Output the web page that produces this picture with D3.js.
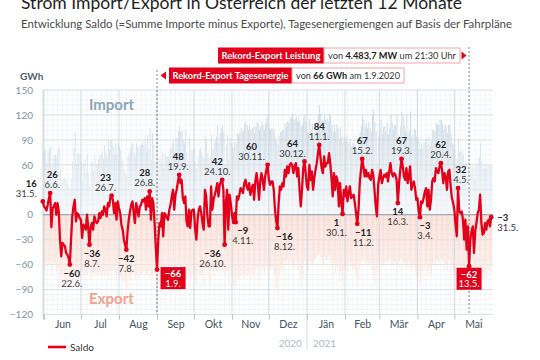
<!DOCTYPE html>
<html><head><meta charset="utf-8">
<script src="https://cdn.jsdelivr.net/npm/d3@7"></script>
<style>
body{margin:0;background:#fff}
svg{display:block}
text{font-family:Lato,"Open Sans","DejaVu Sans",sans-serif}
</style>
</head><body>
<svg id="c" width="540" height="360"></svg>
<script>
// ---------------- DATA ----------------
const titleText = "Strom Import/Export in Österreich der letzten 12 Monate";
const subtitleText = "Entwicklung Saldo (=Summe Importe minus Exporte), Tagesenergiemengen auf Basis der Fahrpläne";
const monthLabels = ["Jun","Jul","Aug","Sep","Okt","Nov","Dez","Jän","Feb","Mär","Apr","Mai"];
const yTicks = [150,120,90,60,30,0,-30,-60,-90,-120];
const yTickLabels = [150,120,90,60,0,-30,-60,-90,-120]; // "30" is covered by the 31.5. label in the original
const yearLabels = ["2020","2021"];
const seriesName = "Saldo";
const unitLabel = "GWh";

// Saldo (GWh), daily from 31.5.2020 to 31.5.2021
const saldoMay20 = [16];
const saldoJun = [10,8,5,12,20,26,-15,8,10,14,0,14,4,-30,-50,-34,-36,-38,-46,-48,-52,-60,-30,-2,10,18,-8,2,0,-4];
const saldoJul = [-6,-28,-12,-14,-18,0,-16,-36,-14,-10,-18,-2,-8,-10,-8,2,-4,4,0,10,6,-2,14,10,20,23,18,2,14,-6,16];
const saldoAug = [8,2,-12,-18,-30,-36,-42,-20,-6,4,12,16,2,-10,14,6,-2,10,12,18,16,20,6,22,10,28,-6,20,14,-10,-40];
const saldoSep = [-66,-30,-10,-14,2,-26,2,0,-4,-6,6,12,22,30,6,24,30,40,48,38,42,20,14,22,-8,-14,6,-16,4,6];
const saldoOkt = [6,-18,-30,-6,6,10,2,-10,-18,30,22,-2,-14,-14,34,6,18,24,30,38,22,36,40,42,30,-36,14,30,-18,24,14];
const saldoNov = [0,-10,2,-9,22,18,24,32,30,26,38,42,34,30,38,24,32,36,18,40,50,38,18,40,50,42,30,46,54,60];
const saldoDez = [42,36,40,40,30,6,-8,-16,14,34,30,38,34,54,46,58,50,60,62,60,50,58,62,46,56,30,10,30,56,64,50];
const saldoJan = [34,30,60,42,52,30,44,54,62,74,84,70,56,50,70,58,62,62,74,62,44,22,50,30,46,40,10,38,14,1,30];
const saldoFeb = [22,34,16,26,34,20,22,24,14,2,-11,6,38,54,67,58,46,54,46,50,44,42,54,48,30,10,-2,36];
const saldoMar = [46,54,38,44,48,46,50,40,52,62,50,46,50,48,42,14,38,54,67,58,46,42,56,38,46,58,30,36,40,32,18];
const saldoApr = [20,4,-3,16,14,20,28,32,10,30,6,18,40,44,40,56,52,50,58,62,54,38,50,46,30,52,54,34,20,14];
const saldoMai = [6,-12,-26,32,4,2,4,-6,-30,-6,-42,-14,-62,-30,-20,-14,-46,-20,-10,2,6,24,-10,-24,-22,-10,-18,-8,-6,-14,-3];

// Export (GWh), daily, same days
const exportMay20 = [62];
const exportJun = [66,70,58,64,60,56,72,60,62,58,70,64,78,84,72,76,80,82,86,84,88,90,74,66,70,82,68,72,74,76];
const exportJul = [70,68,74,80,70,72,66,70,78,72,70,74,68,72,74,70,76,72,68,74,70,72,76,68,70,66,64,70,72,78,70];
const exportAug = [74,76,80,82,84,86,88,90,80,76,72,70,74,80,72,76,78,74,72,70,68,72,70,74,68,76,72,78,70,74,80];
const exportSep = [96,84,80,78,74,82,72,70,74,76,72,68,64,60,70,66,62,60,58,62,60,70,72,80,84,74,86,76,74,72];
const exportOkt = [74,80,86,76,72,70,74,82,86,64,66,76,82,84,62,72,68,66,64,70,64,62,64,66,70,96,70,66,84,68,72];
const exportNov = [82,90,86,94,76,78,74,72,70,76,72,70,74,72,70,78,72,70,80,66,62,72,84,66,62,66,72,64,62,60];
const exportDez = [62,66,64,64,72,88,96,100,80,66,70,64,68,56,60,54,60,56,56,62,64,58,56,66,60,82,96,78,60,56,62];
const exportJan = [66,68,56,60,58,62,54,52,50,46,48,52,58,62,50,56,54,50,48,56,64,78,58,70,62,64,82,68,80,86,64];
const exportFeb = [66,60,70,62,58,62,64,66,70,78,86,80,62,54,52,56,60,56,58,62,60,58,66,78,82,90,64,58];
const exportMar = [56,60,58,62,58,54,60,56,52,58,60,56,58,60,78,62,56,52,56,60,62,58,64,60,56,66,64,60,64,70,76];
const exportApr = [74,84,82,70,68,66,62,60,74,64,76,70,62,58,60,54,56,58,56,52,56,64,58,60,68,56,54,62,66,70];
const exportMai = [72,80,86,60,72,74,74,78,86,70,88,74,96,80,76,74,88,78,72,66,64,62,74,80,78,70,74,68,66,72,62];

// annotated days
const highDates = ["2020-06-06","2020-07-26","2020-08-26","2020-09-19","2020-10-24","2020-11-30","2020-12-30","2021-01-11","2021-02-15","2021-03-19","2021-04-20","2021-05-04"];
const lowDates  = ["2020-06-22","2020-07-08","2020-08-07","2020-10-26","2020-11-04","2020-12-08","2021-01-30","2021-02-11","2021-03-16","2021-04-03"];
const recordDates = ["2020-09-01","2021-05-13"];
const startLabelDate = "2020-05-31";
const endLabelDate = "2021-05-31";

const recordEnergy = {title:"Rekord-Export Tagesenergie", pre:"von ", bold:"66 GWh", post:" am 1.9.2020", date:"2020-09-01"};
const recordPower  = {title:"Rekord-Export Leistung", pre:"von ", bold:"4.483,7 MW", post:" um 21:30 Uhr", date:"2021-05-13"};

// ---------------- BUILD ----------------
const saldo = [].concat(saldoMay20,saldoJun,saldoJul,saldoAug,saldoSep,saldoOkt,saldoNov,saldoDez,saldoJan,saldoFeb,saldoMar,saldoApr,saldoMai);
const exportVals = [].concat(exportMay20,exportJun,exportJul,exportAug,exportSep,exportOkt,exportNov,exportDez,exportJan,exportFeb,exportMar,exportApr,exportMai);
const start = new Date(Date.UTC(2020,4,31));
const end = new Date(Date.UTC(2021,4,31));
const days = d3.utcDay.range(start, d3.utcDay.offset(end,1));
const rows = days.map((d,i)=>({date:d, saldo:saldo[i], exp:exportVals[i], imp:saldo[i]+exportVals[i]}));
const keyFmt = d3.utcFormat("%Y-%m-%d");
const byKey = new Map(rows.map(r=>[keyFmt(r.date), r]));
const fmtDay = d3.utcFormat("%-d.%-m.");

// label placement tweaks (px), layout only
const labelShift = {"2020-06-06":2,"2020-07-26":-6,"2020-08-26":-5,"2020-09-19":-1,"2020-10-24":-5,
  "2020-11-30":-16,"2020-12-30":-12,"2020-06-22":2,"2020-07-08":2.5,"2020-10-26":-12,"2020-11-04":7,
  "2020-12-08":7,"2021-01-30":-6,"2021-02-11":6,"2021-04-03":5,"2021-05-04":3};

const RED = "#e2001a";
const svg = d3.select("#c");
const x = d3.scaleUtc().domain([start,end]).range([42.8,491.2]);
const y = d3.scaleLinear().domain([-120,150]).range([314.5,90]);
const X0 = 43, X1 = 493;

const defs = svg.append("defs");
const gExp = defs.append("linearGradient").attr("id","gExp").attr("gradientUnits","userSpaceOnUse")
  .attr("x1",0).attr("x2",0).attr("y1",y(0)).attr("y2",y(-100));
gExp.append("stop").attr("offset",0).attr("stop-color","#f8d3c8");
gExp.append("stop").attr("offset",1).attr("stop-color","#fdf1ed");
const gImp = defs.append("linearGradient").attr("id","gImp").attr("gradientUnits","userSpaceOnUse")
  .attr("x1",0).attr("x2",0).attr("y1",y(0)).attr("y2",y(140));
gImp.append("stop").attr("offset",0).attr("stop-color","#f1f5f8");
gImp.append("stop").attr("offset",1).attr("stop-color","#b3c8d9");

// grid
const grid = svg.append("g");
grid.selectAll(".hm").data(d3.range(-120,151,6)).join("line")
  .attr("x1",X0).attr("x2",X1).attr("y1",d=>y(d)).attr("y2",d=>y(d))
  .attr("stroke","#edf0f3").attr("stroke-width",0.7);
grid.selectAll(".vm").data(d3.range(0,367,4).map(k=>d3.utcDay.offset(start,k))).join("line")
  .attr("x1",d=>x(d)).attr("x2",d=>x(d)).attr("y1",y(150)).attr("y2",y(-120))
  .attr("stroke","#edf0f3").attr("stroke-width",0.7);
grid.selectAll(".hM").data(yTicks).join("line")
  .attr("x1",X0).attr("x2",X1).attr("y1",d=>y(d)).attr("y2",d=>y(d))
  .attr("stroke","#d8dde2").attr("stroke-width",0.8);

// bars
svg.append("g").selectAll("rect").data(rows).join("rect")
  .attr("x",d=>x(d.date)).attr("width",0.85)
  .attr("y",d=>y(d.imp)).attr("height",d=>y(0)-y(d.imp))
  .attr("fill","url(#gImp)").attr("opacity",0.85);
svg.append("g").selectAll("rect").data(rows).join("rect")
  .attr("x",d=>x(d.date)).attr("width",0.9)
  .attr("y",y(0)).attr("height",d=>y(-d.exp)-y(0))
  .attr("fill","url(#gExp)").attr("opacity",0.9);

// month separators
const monthStarts = d3.utcMonth.range(new Date(Date.UTC(2020,5,1)), new Date(Date.UTC(2021,5,1)));
svg.append("g").selectAll("line").data(monthStarts).join("line")
  .attr("x1",d=>x(d)).attr("x2",d=>x(d)).attr("y1",y(150)).attr("y2",y(-120))
  .attr("stroke","#ccd3da").attr("stroke-width",0.8);
svg.append("line").attr("x1",X0).attr("x2",X0).attr("y1",y(150)).attr("y2",y(-120))
  .attr("stroke","#ccd3da").attr("stroke-width",0.8);

// zero line
svg.append("line").attr("x1",X0).attr("x2",X1).attr("y1",y(0)).attr("y2",y(0))
  .attr("stroke","#8f9ba6").attr("stroke-width",1);

// Import / Export labels
svg.append("text").attr("x",111.5).attr("y",109.5).attr("text-anchor","middle")
  .attr("font-size",15).attr("font-weight",700).attr("fill","#8ea3b6").text("Import");
svg.append("text").attr("x",111.5).attr("y",304).attr("text-anchor","middle")
  .attr("font-size",15).attr("font-weight",700).attr("fill","#f4a08b").text("Export");

// axes
const yAxis = svg.append("g").attr("transform","translate(36,0)")
  .call(d3.axisLeft(y).tickValues(yTickLabels).tickSize(0).tickPadding(3));
yAxis.select(".domain").remove();
yAxis.selectAll("text").attr("fill","#8094a7").attr("font-size",10).style("font-family","Lato,'Open Sans',sans-serif");

const xTicks = svg.append("g").attr("transform",`translate(0,${y(-120)})`)
  .call(d3.axisBottom(x).tickValues(monthStarts.concat([start])).tickSize(5).tickFormat(""));
xTicks.select(".domain").remove();
xTicks.selectAll("line").attr("stroke","#b9c3cc");

const mids = monthStarts.map(s=>new Date((+s + +d3.utcMonth.offset(s,1))/2));
const xLab = svg.append("g").attr("transform",`translate(0,${y(-120)})`)
  .call(d3.axisBottom(x).tickValues(mids).tickSize(0).tickPadding(6).tickFormat((d,i)=>monthLabels[i]));
xLab.select(".domain").remove();
xLab.selectAll("text").attr("fill","#3f5265").attr("font-size",10.5).style("font-family","Lato,'Open Sans',sans-serif");

// year separator and labels
const jan1 = new Date(Date.UTC(2021,0,1));
svg.append("line").attr("x1",x(jan1)).attr("x2",x(jan1)).attr("y1",y(-120)).attr("y2",350)
  .attr("stroke","#ccd4db").attr("stroke-width",0.8);
svg.append("text").attr("x",x(jan1)-5).attr("y",347).attr("text-anchor","end")
  .attr("font-size",10).attr("fill","#a7bacb").text(yearLabels[0]);
svg.append("text").attr("x",x(jan1)+6).attr("y",347).attr("text-anchor","start")
  .attr("font-size",10).attr("fill","#a7bacb").text(yearLabels[1]);

// unit label
svg.append("text").attr("x",20).attr("y",80).attr("font-size",10).attr("font-weight",700)
  .attr("fill","#4f5e6c").text(unitLabel);

// dashed record lines
const dE = new Date(recordEnergy.date+"T00:00:00Z"), dP = new Date(recordPower.date+"T00:00:00Z");
svg.append("line").attr("x1",x(dE)).attr("x2",x(dE)).attr("y1",70).attr("y2",y(-120))
  .attr("stroke","#666").attr("stroke-width",0.8).attr("stroke-dasharray","2,2");
svg.append("line").attr("x1",x(dP)).attr("x2",x(dP)).attr("y1",47).attr("y2",y(-120))
  .attr("stroke","#666").attr("stroke-width",0.8).attr("stroke-dasharray","2,2");

// saldo line
svg.append("path").datum(rows)
  .attr("d",d3.line().x(d=>x(d.date)).y(d=>y(d.saldo)))
  .attr("fill","none").attr("stroke",RED).attr("stroke-width",2.3).attr("stroke-linejoin","round");

// labels
const lab = svg.append("g");
const LFS = 9.5;
function dot(r){ lab.append("circle").attr("cx",x(r.date)).attr("cy",y(r.saldo)).attr("r",2.4).attr("fill",RED); }
function twoLine(r, px, py1, py2, anchor){
  lab.append("text").attr("x",px).attr("y",py1).attr("text-anchor",anchor).attr("font-size",LFS)
    .attr("font-weight",700).attr("fill","#222").text(d3.format("d")(r.saldo));
  lab.append("text").attr("x",px).attr("y",py2).attr("text-anchor",anchor).attr("font-size",LFS)
    .attr("fill","#3a3a3a").text(fmtDay(r.date));
}
const sh = k => labelShift[k] || 0;
highDates.forEach(k=>{ const r=byKey.get(k); dot(r); twoLine(r, x(r.date)+sh(k), y(r.saldo)-15, y(r.saldo)-5, "middle"); });
lowDates.forEach(k=>{ const r=byKey.get(k); dot(r); twoLine(r, x(r.date)+sh(k), y(r.saldo)+12, y(r.saldo)+22, "middle"); });
{ const r=byKey.get(startLabelDate); dot(r); twoLine(r, x(r.date)-6, y(r.saldo)-14, y(r.saldo)-4, "end"); }
{ const r=byKey.get(endLabelDate); dot(r); twoLine(r, x(r.date)+6, y(r.saldo)+3.5, y(r.saldo)+13.5, "start"); }
recordDates.forEach((k,i)=>{
  const r=byKey.get(k); dot(r);
  const cx = i===0 ? x(r.date)+16 : x(r.date);
  const top = i===0 ? y(r.saldo)-2.5 : y(r.saldo)+1.5;
  lab.append("rect").attr("x",cx-12.5).attr("y",top).attr("width",25).attr("height",22).attr("fill",RED);
  lab.append("text").attr("x",cx).attr("y",top+10).attr("text-anchor","middle").attr("font-size",LFS)
    .attr("font-weight",700).attr("fill","#fff").text(d3.format("d")(r.saldo));
  lab.append("text").attr("x",cx).attr("y",top+19.5).attr("text-anchor","middle").attr("font-size",LFS)
    .attr("fill","#fff").text(fmtDay(r.date));
});

// record boxes at top
function fitInside(t, maxW, base){
  const len = t.node().getComputedTextLength();
  if (len > maxW) t.attr("font-size", base*maxW/len);
}
function recBox(rec, rx, rw, wx, ww, top, h){
  svg.append("rect").attr("x",rx).attr("y",top).attr("width",rw).attr("height",h).attr("fill",RED);
  const tt = svg.append("text").attr("x",rx+rw/2).attr("y",top+h/2+3.5).attr("text-anchor","middle")
    .attr("font-size",10).attr("font-weight",700).attr("fill","#fff").text(rec.title);
  fitInside(tt, rw-7, 10);
  svg.append("rect").attr("x",wx).attr("y",top+0.5).attr("width",ww).attr("height",h-1)
    .attr("fill","#fff").attr("stroke","#f2a3ab").attr("stroke-width",1);
  const t = svg.append("text").attr("x",wx+ww/2).attr("y",top+h/2+3.5).attr("text-anchor","middle")
    .attr("font-size",10).attr("fill","#333");
  t.append("tspan").text(rec.pre);
  t.append("tspan").attr("font-weight",700).attr("fill","#222").text(rec.bold);
  t.append("tspan").text(rec.post);
  fitInside(t, ww-8, 10);
}
recBox(recordPower, 218, 106, 324, 136, 47.5, 16);
svg.append("path").attr("d","M461.5,51.5L466.5,55.5L461.5,59.5Z").attr("fill",RED);
recBox(recordEnergy, 169, 123, 292, 112, 67.5, 16);
svg.append("path").attr("d","M166,71.5L160.5,75.5L166,79.5Z").attr("fill",RED);

// title & subtitle
svg.append("text").attr("x",21).attr("y",9).attr("font-size",18).attr("fill","#1e1e1e")
  .attr("textLength",441).attr("lengthAdjust","spacingAndGlyphs").text(titleText);
svg.append("text").attr("x",21).attr("y",28).attr("font-size",11).attr("fill","#4a4a4a")
  .attr("textLength",491).attr("lengthAdjust","spacingAndGlyphs").text(subtitleText);

// legend
svg.append("line").attr("x1",48).attr("x2",66).attr("y1",347).attr("y2",347).attr("stroke",RED).attr("stroke-width",2.6);
svg.append("text").attr("x",70).attr("y",350.5).attr("font-size",10).attr("fill","#333").text(seriesName);
</script>
</body></html>
